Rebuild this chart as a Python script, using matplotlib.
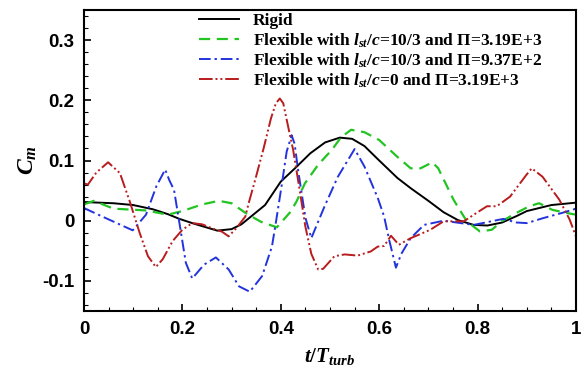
import numpy as np
import matplotlib
matplotlib.use('Agg')
from matplotlib import pyplot as plt
from matplotlib.ticker import MultipleLocator

plt.rcParams['mathtext.fontset'] = 'custom'
plt.rcParams['mathtext.rm'] = 'Liberation Serif:bold'
plt.rcParams['mathtext.it'] = 'Liberation Serif:italic:bold'
plt.rcParams['mathtext.bf'] = 'Liberation Serif:bold'

# rigid
t_rigid = [0, 0.06, 0.1, 0.14, 0.17, 0.194, 0.22, 0.24, 0.271, 0.3, 0.32, 0.335, 0.368, 0.4,
           0.43, 0.46, 0.49, 0.52, 0.545, 0.57, 0.6, 0.637, 0.664, 0.7, 0.731, 0.76, 0.792,
           0.82, 0.85, 0.88, 0.9, 0.95, 1.0]
cm_rigid = [0.031, 0.029, 0.026, 0.019, 0.011, 0.003, -0.004, -0.009, -0.0165, -0.014, -0.006,
            0.004, 0.026, 0.065, 0.088, 0.112, 0.130, 0.138, 0.136, 0.124, 0.100, 0.071,
            0.054, 0.033, 0.014, 0.001, -0.007, -0.008, -0.003, 0.008, 0.016, 0.026, 0.030]

# flexible, l/c=10/3, Pi=3.19E+3
t_green = [0, 0.02, 0.06, 0.127, 0.17, 0.2, 0.24, 0.274, 0.3, 0.33, 0.36, 0.392, 0.42, 0.432,
           0.449, 0.476, 0.503, 0.523, 0.543, 0.57, 0.6, 0.637, 0.664, 0.684, 0.708, 0.72,
           0.751, 0.778, 0.805, 0.829, 0.849, 0.879, 0.905, 0.925, 0.952, 0.98, 1.0]
cm_green = [0.027, 0.033, 0.020, 0.017, 0.010, 0.016, 0.027, 0.033, 0.029, 0.012, -0.002,
            -0.011, 0.015, 0.032, 0.062, 0.093, 0.117, 0.139, 0.151, 0.147, 0.134, 0.106,
            0.087, 0.087, 0.097, 0.087, 0.035, -0.001, -0.018, -0.015, -0.001, 0.013, 0.024,
            0.029, 0.018, 0.013, 0.010]

# flexible, l/c=10/3, Pi=9.37E+2
t_blue = [0, 0.037, 0.099, 0.126, 0.147, 0.165, 0.173, 0.183, 0.194, 0.207, 0.22, 0.244, 0.268,
          0.294, 0.315, 0.337, 0.362, 0.382, 0.39, 0.402, 0.412, 0.422, 0.428, 0.435, 0.45,
          0.462, 0.489, 0.516, 0.55, 0.57, 0.597, 0.61, 0.62, 0.634, 0.645, 0.664, 0.691,
          0.731, 0.792, 0.852, 0.879, 0.9, 0.932, 0.972, 1.0]
cm_blue = [0.021, 0.007, -0.016, 0.010, 0.057, 0.085, 0.068, 0.051, -0.004, -0.070, -0.096,
           -0.073, -0.061, -0.081, -0.109, -0.118, -0.092, -0.043, -0.003, 0.060, 0.115, 0.142,
           0.128, 0.085, 0.005, -0.029, 0.024, 0.073, 0.119, 0.090, 0.038, 0.007, -0.031,
           -0.078, -0.055, -0.029, -0.007, 0.000, -0.007, 0.003, -0.003, -0.004, 0.004, 0.013,
           0.020]

# flexible, l/c=0, Pi=3.19E+3
t_red = [0, 0.008, 0.025, 0.049, 0.073, 0.093, 0.113, 0.13, 0.146, 0.16, 0.18, 0.2, 0.22,
         0.24, 0.268, 0.28, 0.294, 0.31, 0.328, 0.335, 0.348, 0.365, 0.38, 0.39, 0.398, 0.405,
         0.415, 0.425, 0.435, 0.45, 0.462, 0.476, 0.486, 0.509, 0.53, 0.556, 0.583, 0.597,
         0.61, 0.624, 0.64, 0.664, 0.69, 0.704, 0.731, 0.772, 0.798, 0.819, 0.839, 0.866,
         0.899, 0.91, 0.932, 0.966, 0.987, 1.0]
cm_red = [0.062, 0.060, 0.080, 0.097, 0.079, 0.032, -0.020, -0.059, -0.077, -0.064, -0.034,
          -0.015, -0.004, -0.006, -0.015, -0.018, -0.026, -0.012, 0.007, 0.030, 0.068, 0.120,
          0.170, 0.195, 0.203, 0.195, 0.156, 0.118, 0.068, -0.010, -0.055, -0.081, -0.080,
          -0.059, -0.056, -0.058, -0.051, -0.043, -0.042, -0.025, -0.040, -0.029, -0.020,
          -0.015, -0.001, -0.001, 0.013, 0.024, 0.024, 0.040, 0.076, 0.087, 0.073, 0.035,
          0.002, -0.026]

labels = ['Rigid',
          r'Flexible with $l_{st}/c$=10/3 and $\Pi$=3.19E+3',
          r'Flexible with $l_{st}/c$=10/3 and $\Pi$=9.37E+2',
          r'Flexible with $l_{st}/c$=0 and $\Pi$=3.19E+3']

fig = plt.figure(figsize=(5.83, 3.80), dpi=100)
ax = fig.add_axes([84 / 583, 69 / 380, 492 / 583, 301 / 380])

ax.plot(t_rigid, cm_rigid, color='black', lw=1.4, label=labels[0])
ax.plot(t_green, cm_green, color='#22c422', lw=1.6, ls=(0, (5, 3)), label=labels[1])
ax.plot(t_blue, cm_blue, color='#2233dd', lw=1.4, ls=(0, (6, 2, 1.2, 2)), label=labels[2])
ax.plot(t_red, cm_red, color='#b81c1c', lw=1.4, ls=(0, (7, 1.5, 1, 1.5, 1, 1.5)), label=labels[3])

ax.set_xlim(0, 1)
ax.set_ylim(-0.15, 0.35)
ax.xaxis.set_minor_locator(MultipleLocator(0.05))
ax.yaxis.set_minor_locator(MultipleLocator(0.02))
ax.set_xticks([0, 0.2, 0.4, 0.6, 0.8, 1.0])
ax.set_xticklabels(['0', '0.2', '0.4', '0.6', '0.8', '1'])
ax.set_yticks([-0.1, 0, 0.1, 0.2, 0.3])
ax.set_yticklabels(['-0.1', '0', '0.1', '0.2', '0.3'])
ax.tick_params(which='both', direction='in', top=False, right=False)
ax.tick_params(which='major', length=5, width=1.2, labelsize=13.5, pad=7)
ax.tick_params(which='minor', length=3, width=0.8)
for lab in ax.get_xticklabels() + ax.get_yticklabels():
    lab.set_fontfamily('Liberation Sans')
    lab.set_fontweight('bold')
for sp in ax.spines.values():
    sp.set_linewidth(1.5)

ax.set_xlabel(r'$t/T_{turb}$', fontsize=15, labelpad=6)
ax.set_ylabel(r'$C_m$', fontsize=17, labelpad=2)

ax.legend(loc='upper left', bbox_to_anchor=(0.22, 1.012), frameon=False,
          prop={'family': 'Liberation Serif', 'weight': 'bold', 'size': 12.5},
          handlelength=2.3, handletextpad=0.8, labelspacing=0.1, borderaxespad=0.0)

plt.savefig('out.png', dpi=100)
